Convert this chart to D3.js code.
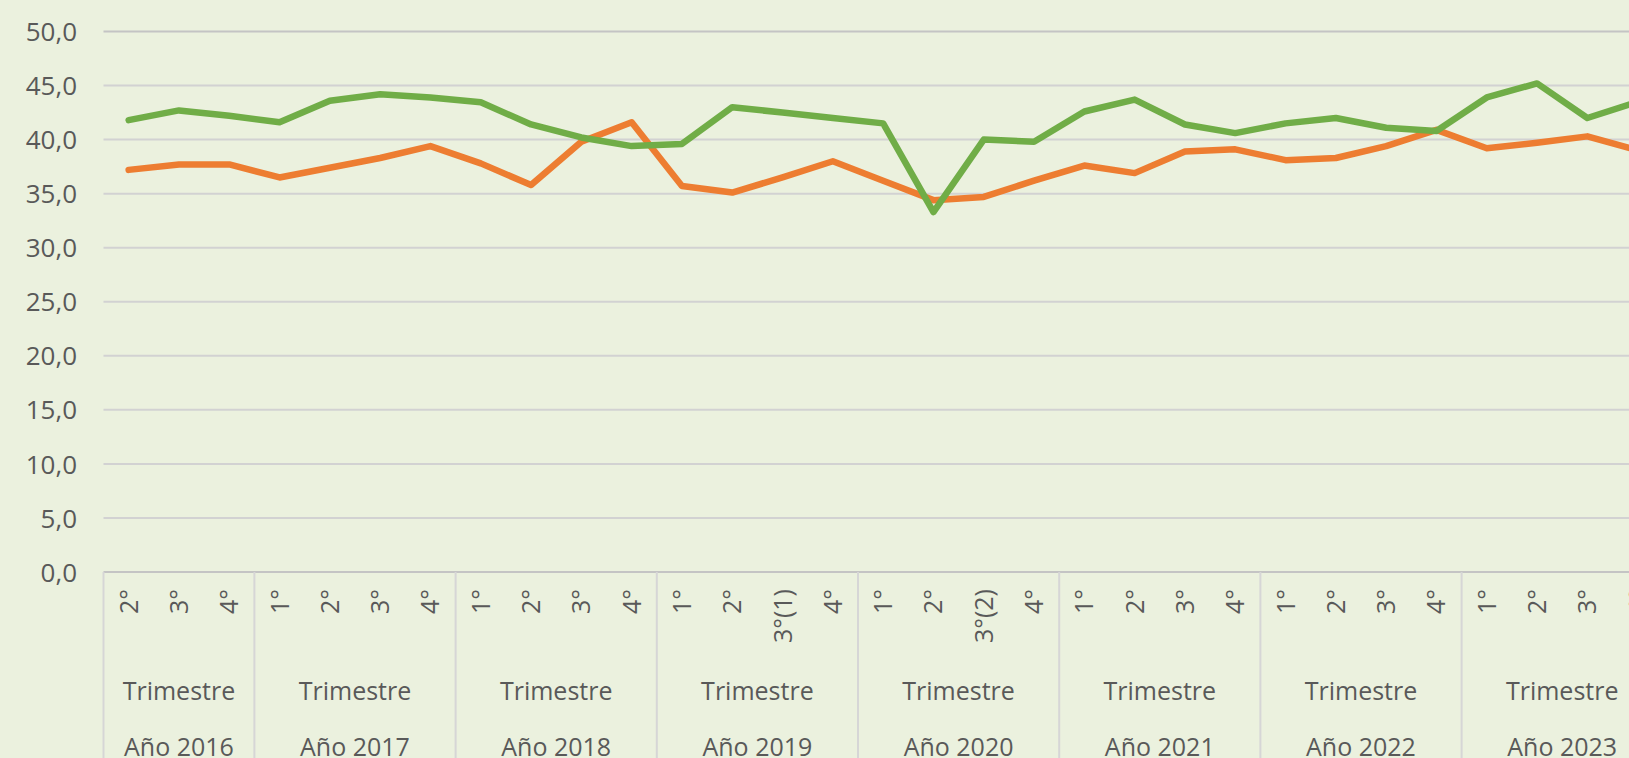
<!DOCTYPE html>
<html>
<head>
<meta charset="utf-8">
<script src="https://cdn.jsdelivr.net/npm/d3@7"></script>
<style>
  html, body { margin: 0; padding: 0; background: #ebf1de; overflow: hidden; }
  svg { display: block; font-family: "Open Sans", "Noto Sans", sans-serif; }
</style>
</head>
<body>
<svg id="chart" width="1629" height="758"></svg>
<script>
// ---- data ----
const years = ["Año 2016", "Año 2017", "Año 2018", "Año 2019", "Año 2020", "Año 2021", "Año 2022", "Año 2023"];
const quarters = [
  ["2°", "3°", "4°"],
  ["1°", "2°", "3°", "4°"],
  ["1°", "2°", "3°", "4°"],
  ["1°", "2°", "3°(1)", "4°"],
  ["1°", "2°", "3°(2)", "4°"],
  ["1°", "2°", "3°", "4°"],
  ["1°", "2°", "3°", "4°"],
  ["1°", "2°", "3°", "4°"]
];
const groupLabel = "Trimestre";
const yTicks = [0, 5, 10, 15, 20, 25, 30, 35, 40, 45, 50];
const seriesGreen = [41.8, 42.7, 42.2, 41.6, 43.6, 44.2, 43.9, 43.45, 41.4, 40.2, 39.4, 39.6, 43.0, 42.5, 42.0, 41.5, 33.3, 40.0, 39.8, 42.6, 43.7, 41.4, 40.6, 41.5, 42.0, 41.1, 40.8, 43.9, 45.2, 42.0, 43.5];
const seriesOrange = [37.2, 37.7, 37.7, 36.5, 37.4, 38.3, 39.4, 37.8, 35.8, 39.8, 41.6, 35.7, 35.1, 36.5, 38.0, 36.2, 34.4, 34.7, 36.2, 37.6, 36.9, 38.9, 39.1, 38.1, 38.3, 39.4, 40.9, 39.2, 39.7, 40.3, 39.0];

(function () {
const FONT = "'Open Sans', 'Noto Sans', sans-serif";
const TXT = "#595959";
// ---- build categories ----
const cats = [];
years.forEach((yv, yi) => quarters[yi].forEach((q, qi) => cats.push({ key: yi + "-" + qi, year: yv, yi, q })));

const svg = d3.select("#chart");
const W = 1629, H = 758;
const mLeft = 103.5, step = 50.3;
const mTop = 31.5, mBottom = 572;

const x = d3.scaleBand().domain(cats.map(c => c.key)).range([mLeft, mLeft + step * cats.length]).padding(0);
const y = d3.scaleLinear().domain([0, 50]).range([mBottom, mTop]);
const xc = k => x(k) + x.bandwidth() / 2;

// gridlines
svg.append("g").selectAll("line").data(yTicks.filter(t => t > 0)).join("line")
  .attr("x1", mLeft).attr("x2", W + 60)
  .attr("y1", d => y(d)).attr("y2", d => y(d))
  .attr("stroke", d => d === 50 ? "#c4c4c4" : "#d2d2d2")
  .attr("stroke-width", 2);

// y axis labels
const yAxis = d3.axisLeft(y).tickValues(yTicks).tickSize(0).tickPadding(0)
  .tickFormat(d => d3.format(".1f")(d).replace(".", ","));
const gy = svg.append("g").attr("transform", "translate(77,0)").call(yAxis);
gy.select(".domain").remove();
gy.selectAll("text").attr("font-size", 26).attr("fill", TXT)
  .attr("font-family", FONT).attr("dy", "0.35em");

// category axis baseline
svg.append("line").attr("x1", mLeft).attr("x2", W + 60)
  .attr("y1", mBottom).attr("y2", mBottom)
  .attr("stroke", "#c4c4c4").attr("stroke-width", 2);

// year separators
const yearStarts = years.map((yv, yi) => cats.find(c => c.yi === yi).key);
const sepXs = yearStarts.map(k => x(k));
svg.append("g").selectAll("line").data(sepXs).join("line")
  .attr("x1", d => d).attr("x2", d => d)
  .attr("y1", mBottom).attr("y2", H)
  .attr("stroke", "#d6d6d6").attr("stroke-width", 2);

// quarter labels (rotated)
const xAxis = d3.axisBottom(x).tickSize(0).tickFormat(k => cats.find(c => c.key === k).q);
const gx = svg.append("g").attr("transform", `translate(0,${mBottom})`).call(xAxis);
gx.select(".domain").remove();
gx.selectAll(".tick text")
  .attr("transform", "rotate(-90)")
  .attr("x", -17).attr("y", 0).attr("dy", "0.36em")
  .attr("text-anchor", "end")
  .attr("font-size", 25).attr("fill", TXT)
  .attr("font-family", FONT);

// group labels
const groups = years.map((yv, yi) => {
  const ks = cats.filter(c => c.yi === yi).map(c => c.key);
  return { year: yv, cx: (x(ks[0]) + x(ks[ks.length - 1]) + x.bandwidth()) / 2 };
});
svg.append("g").selectAll("text").data(groups).join("text")
  .attr("x", d => d.cx).attr("y", 700)
  .attr("text-anchor", "middle").attr("font-size", 25).attr("fill", TXT)
  .attr("font-family", FONT)
  .text(groupLabel);
svg.append("g").selectAll("text").data(groups).join("text")
  .attr("x", d => d.cx).attr("y", 756)
  .attr("text-anchor", "middle").attr("font-size", 25).attr("fill", TXT)
  .attr("font-family", FONT)
  .text(d => d.year);

// lines
const line = d3.line().x((d, i) => xc(cats[i].key)).y(d => y(d));
svg.append("path").datum(seriesOrange).attr("d", line)
  .attr("fill", "none").attr("stroke", "#ed7d31").attr("stroke-width", 6.5)
  .attr("stroke-linejoin", "round").attr("stroke-linecap", "round");
svg.append("path").datum(seriesGreen).attr("d", line)
  .attr("fill", "none").attr("stroke", "#70ad47").attr("stroke-width", 6.5)
  .attr("stroke-linejoin", "round").attr("stroke-linecap", "round");
})();
</script>
</body>
</html>
